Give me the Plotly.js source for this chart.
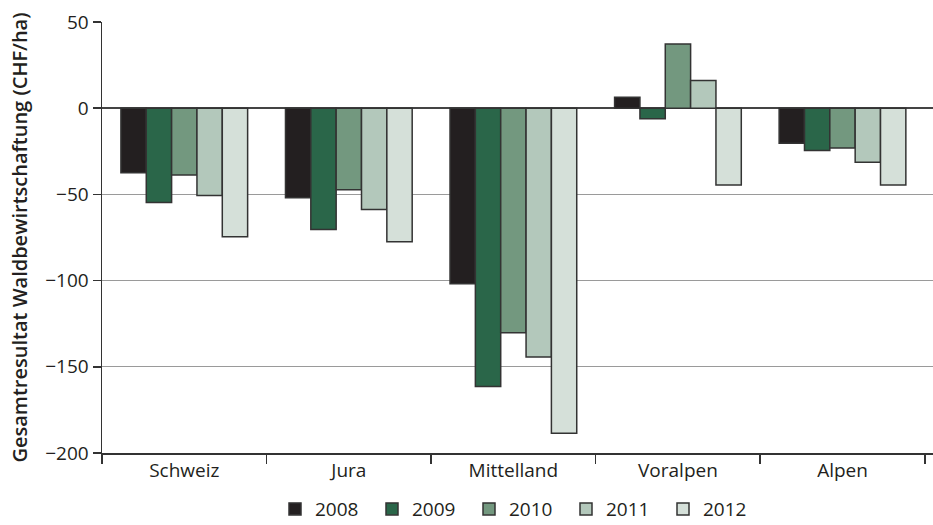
<!DOCTYPE html>
<html>
<head>
<meta charset="utf-8">
<script src="https://cdn.plot.ly/plotly-3.0.1.min.js"></script>
<style>html,body{margin:0;padding:0;background:#fff}#chart{width:933px;height:525px}</style>
</head>
<body>
<div id="chart"></div>
<script>
const categories = ["Schweiz", "Jura", "Mittelland", "Voralpen", "Alpen"];
const years = ["2008", "2009", "2010", "2011", "2012"];
const v2008 = [-37.5, -52, -101.8, 6.3, -20.4];
const v2009 = [-54.7, -70.3, -161.4, -6.1, -24.5];
const v2010 = [-38.8, -47.3, -130.2, 37.2, -23.1];
const v2011 = [-50.6, -58.7, -144.3, 16.1, -31.4];
const v2012 = [-74.6, -77.5, -188.6, -44.5, -44.5];
const colors = ["#231f20", "#2a6649", "#73987f", "#b3c8bb", "#d5e0d9"];
const series = [v2008, v2009, v2010, v2011, v2012];
const yTicks = [-200, -150, -100, -50, 0, 50];

const font = "Open Sans, Noto Sans, sans-serif";
const data = series.map((vals, i) => ({
  type: "bar",
  name: years[i],
  x: categories,
  y: vals,
  marker: {color: colors[i], line: {color: "#333333", width: 1.5}},
  hoverinfo: "x+y+name"
}));

const layout = {
  width: 933, height: 525,
  margin: {l: 102, r: 0, t: 22, b: 72, autoexpand: false},
  paper_bgcolor: "#fff", plot_bgcolor: "#fff",
  barmode: "group", bargap: 0.23, bargroupgap: 0,
  font: {family: font, color: "#231f20", size: 19},
  xaxis: {
    range: [-0.5, 4.55],
    showline: true, linecolor: "#333", linewidth: 1.5,
    ticks: "outside", tickson: "boundaries", ticklen: 9, tickcolor: "#333", tickwidth: 1.5,
    showgrid: false, automargin: false,
    tickfont: {size: 19, family: font}
  },
  yaxis: {
    range: [-200, 50],
    tickvals: yTicks,
    showline: true, linecolor: "#333", linewidth: 1.5,
    ticks: "outside", ticklen: 8, tickcolor: "#333", tickwidth: 1.5,
    showgrid: true, gridcolor: "#9a9a9a", gridwidth: 1,
    zeroline: true, zerolinecolor: "#444", zerolinewidth: 1.5,
    automargin: false,
    tickfont: {size: 19, family: font},
    title: {text: "Gesamtresultat Waldbewirtschaftung (CHF/ha)", font: {size: 20, family: font, weight: 600}, standoff: 12}
  },
  legend: {
    orientation: "h", x: 0.5, xanchor: "center", y: -0.13, yanchor: "middle",
    font: {size: 19, family: font}, itemwidth: 30, traceorder: "normal",
    entrywidth: 52, entrywidthmode: "pixels"
  },
  showlegend: true
};

Plotly.newPlot("chart", data, layout, {displayModeBar: false, staticPlot: true});
</script>
</body>
</html>
